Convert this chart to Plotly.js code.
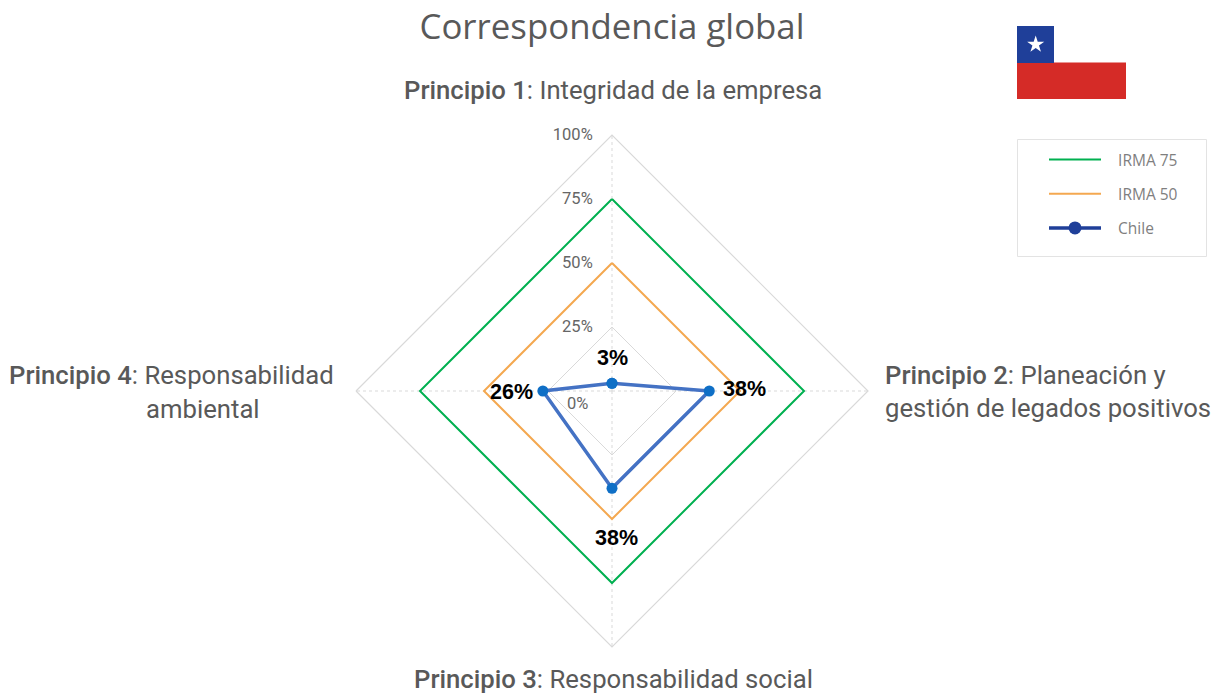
<!DOCTYPE html>
<html>
<head>
<meta charset="utf-8">
<script src="https://cdn.plot.ly/plotly-3.0.1.min.js"></script>
<style>html,body{margin:0;padding:0;background:#fff}#c{width:1219px;height:693px}</style>
</head>
<body>
<div id="c"></div>
<script>
const principles = ["Principio 1", "Principio 2", "Principio 3", "Principio 4"];
const irma75 = [75, 75, 75, 75];
const irma50 = [50, 50, 50, 50];
const chile = [3, 38, 38, 27];
const chileLabels = ["3%", "38%", "38%", "26%"];
const radialTicks = [25, 50, 75, 100];
const radialTickText = ["25%", "50%", "75%", "100%"];

const W = 1219, H = 693;
const px = v => v / W, py = v => 1 - v / H;
const closed = a => a.concat(a[0]);
const theta = closed(principles);

function starPath(cx, cy, R) {
  let d = "";
  for (let i = 0; i < 10; i++) {
    const r = i % 2 ? R * 0.382 : R;
    const a = -Math.PI / 2 + i * Math.PI / 5;
    d += (i ? "L" : "M") + px(cx + r * Math.cos(a)).toFixed(5) + "," + py(cy + r * Math.sin(a)).toFixed(5);
  }
  return d + "Z";
}

const labelFont = {family: "Roboto", size: 25.7, color: "#595959"};
const valueFont = {family: "Liberation Sans", size: 21.5, color: "#000000"};
const tickFont = {family: "Roboto", size: 16.5, color: "#666666"};
const med = s => '<span style="font-weight:500">' + s + '</span>';
function note(text, x, y, font, xanchor, align) {
  return {text, x: px(x), y: py(y), xref: "paper", yref: "paper", xanchor: xanchor || "center",
          yanchor: "middle", align: align || "center", showarrow: false, font, borderpad: 0};
}

const traces = [
  {type: "scatterpolar", name: "\u00a0\u00a0\u00a0IRMA 75", legendgroup: "a", r: closed(irma75), theta, mode: "lines",
   line: {color: "#00B050", width: 2}, hoverinfo: "skip"},
  {type: "scatterpolar", name: "\u00a0\u00a0\u00a0IRMA 50", legendgroup: "b", r: closed(irma50), theta, mode: "lines",
   line: {color: "#F4A850", width: 2}, hoverinfo: "skip"},
  {type: "scatterpolar", name: "Chile", showlegend: false, r: closed(chile), theta, mode: "lines+markers",
   line: {color: "#4472C4", width: 3.5}, marker: {color: "#0F6FC6", size: 11}, hoverinfo: "skip"},
  {type: "scatterpolar", name: "\u00a0\u00a0\u00a0Chile", legendgroup: "c", r: [null], theta: [principles[0]], mode: "lines+markers",
   line: {color: "#1F3F99", width: 3.5}, marker: {color: "#1F3F99", size: 13}, hoverinfo: "skip"}
];

const layout = {
  width: W, height: H,
  margin: {l: 0, r: 0, t: 0, b: 0},
  paper_bgcolor: "#fff",
  title: {text: "Correspondencia global", x: 612 / W, xanchor: "center", y: py(27), yanchor: "middle",
          font: {family: "Open Sans", size: 34.8, color: "#595959"}},
  polar: {
    domain: {x: [px(612 - 256), px(612 + 256)], y: [py(391 + 256), py(391 - 256)]},
    bgcolor: "rgba(0,0,0,0)",
    gridshape: "linear",
    radialaxis: {range: [0, 100], angle: 90, tickangle: 90, side: "counterclockwise", tickvals: radialTicks, ticktext: radialTickText,
      showline: false, ticks: "outside", ticklen: 13, tickcolor: "rgba(0,0,0,0)", gridcolor: "#d9d9d9", gridwidth: 1.2, tickfont: tickFont},
    angularaxis: {type: "category", categoryarray: principles, rotation: 90, direction: "clockwise",
      showticklabels: false, ticks: "", showline: true, linecolor: "#d9d9d9", linewidth: 1.2,
      gridcolor: "#d9d9d9", griddash: "3px,3px", gridwidth: 1}
  },
  showlegend: true,
  legend: {x: px(1044), y: py(143), xanchor: "left", yanchor: "top", traceorder: "grouped", tracegroupgap: 11,
    itemwidth: 52, bgcolor: "rgba(0,0,0,0)", borderwidth: 0,
    font: {family: "Open Sans", size: 15.5, color: "#7f7f7f"}},
  shapes: [
    {type: "rect", xref: "paper", yref: "paper", x0: px(1017.5), x1: px(1206.5), y0: py(139.5), y1: py(256.5),
     line: {color: "#e3e3e3", width: 1}, fillcolor: "#fff", layer: "below"},
    {type: "rect", xref: "paper", yref: "paper", x0: px(1017), x1: px(1126), y0: py(62.5), y1: py(99),
     line: {width: 0}, fillcolor: "#D52B27"},
    {type: "rect", xref: "paper", yref: "paper", x0: px(1017), x1: px(1054), y0: py(26), y1: py(63),
     line: {width: 0}, fillcolor: "#1F3F99"},
    {type: "path", xref: "paper", yref: "paper", path: starPath(1035.7, 44.5, 9), line: {width: 0}, fillcolor: "#fff"}
  ],
  annotations: [
    note(med("Principio 1") + ": Integridad de la empresa", 613, 90, labelFont),
    note(med("Principio 2") + ": Planeación y<br>gestión de legados positivos", 884, 391.5, labelFont, "left", "left"),
    note(med("Principio 3") + ": Responsabilidad social", 613, 679, labelFont),
    note(med("Principio 4") + ": Responsabilidad", 334.5, 375.5, labelFont, "right"),
    note("ambiental", 202.5, 408.5, labelFont),
    note("<b>" + chileLabels[0] + "</b>", 612, 358, valueFont),
    note("<b>" + chileLabels[1] + "</b>", 744, 389, valueFont),
    note("<b>" + chileLabels[2] + "</b>", 616, 538, valueFont),
    note("<b>" + chileLabels[3] + "</b>", 511, 392, valueFont),
    note("0%", 577, 403, tickFont)
  ]
};
Plotly.newPlot("c", traces, layout, {displayModeBar: false, responsive: false});
</script>
</body>
</html>
